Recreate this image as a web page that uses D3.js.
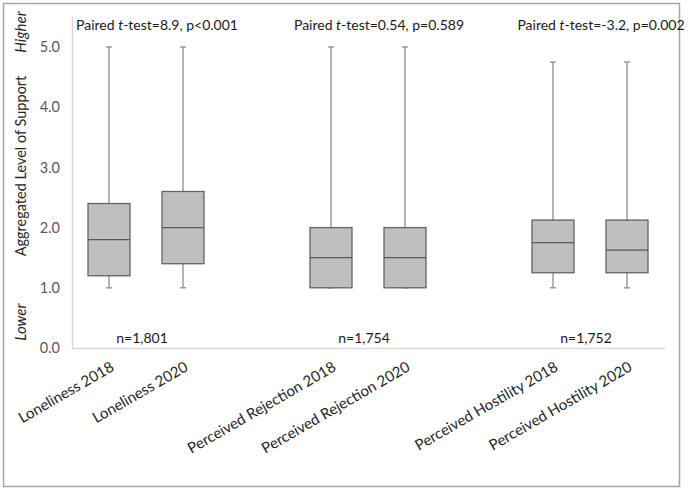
<!DOCTYPE html>
<html><head><meta charset="utf-8">
<script src="https://cdn.jsdelivr.net/npm/d3@7"></script>
<style>
body{margin:0;background:#fff;}
text{font-family:Lato,"Open Sans",sans-serif;}
</style></head>
<body><svg id="c" width="688" height="490"></svg>
<script>
// ---- data ----
const slots = ["Loneliness 2018","Loneliness 2020","gap1","Perceived Rejection 2018","Perceived Rejection 2020","gap2","Perceived Hostility 2018","Perceived Hostility 2020"];
const boxNames = ["Loneliness 2018","Loneliness 2020","Perceived Rejection 2018","Perceived Rejection 2020","Perceived Hostility 2018","Perceived Hostility 2020"];
const mins   = [1.0, 1.0, 1.0, 1.0, 1.0, 1.0];
const q1s    = [1.2, 1.4, 1.0, 1.0, 1.25, 1.25];
const medians= [1.8, 2.0, 1.5, 1.5, 1.75, 1.625];
const q3s    = [2.4, 2.6, 2.0, 2.0, 2.125, 2.125];
const maxs   = [5.0, 5.0, 5.0, 5.0, 4.75, 4.75];
const yTicks = [0,1,2,3,4,5];
const groupPairs = [["Loneliness 2018","Loneliness 2020"],["Perceived Rejection 2018","Perceived Rejection 2020"],["Perceived Hostility 2018","Perceived Hostility 2020"]];
const tStats = ["8.9","0.54","-3.2"];
const pStats = ["p<0.001","p=0.589","p=0.002"];
const nLabels = ["n=1,801","n=1,754","n=1,752"];

const svg = d3.select("#c");
// outer frame
svg.append("rect").attr("x",3.5).attr("y",3.5).attr("width",676).attr("height",483)
  .attr("fill","none").attr("stroke","#a6a6a6").attr("stroke-width",1.5);

const x = d3.scaleBand().domain(slots).range([72,664]);
const y = d3.scaleLinear().domain([0,5]).range([348,47]);

// axes lines
svg.append("line").attr("x1",72.5).attr("x2",72.5).attr("y1",17).attr("y2",y(0))
  .attr("stroke","#d9d9d9").attr("stroke-width",1.5);
svg.append("line").attr("x1",72).attr("x2",665).attr("y1",y(0)+0.5).attr("y2",y(0)+0.5)
  .attr("stroke","#d9d9d9").attr("stroke-width",1.5);

// y tick labels
const yAxis = d3.axisLeft(y).tickValues(yTicks).tickFormat(d3.format(".1f")).tickSize(0).tickPadding(12);
const ga = svg.append("g").attr("transform","translate(72,0)").call(yAxis);
ga.select(".domain").remove();
ga.selectAll("text").attr("font-size",14.5).attr("fill","#595959").attr("font-family","Lato,'Open Sans',sans-serif");

// y title
svg.append("text").attr("transform","translate(26,166) rotate(-90)").attr("text-anchor","middle")
  .attr("font-size",14.5).attr("fill","#262626").text("Aggregated Level of Support");
svg.append("text").attr("transform","translate(26,32) rotate(-90)").attr("text-anchor","middle")
  .attr("font-size",15).attr("font-style","italic").attr("fill","#262626").text("Higher");
svg.append("text").attr("transform","translate(26,322) rotate(-90)").attr("text-anchor","middle")
  .attr("font-size",15).attr("font-style","italic").attr("fill","#262626").text("Lower");

// boxes
const bw = 42;
const data = boxNames.map((n,i)=>({name:n,min:mins[i],q1:q1s[i],med:medians[i],q3:q3s[i],max:maxs[i]}));
const g = svg.append("g");
data.forEach(d=>{
  const cx = x(d.name)+x.bandwidth()/2;
  g.append("line").attr("x1",cx).attr("x2",cx).attr("y1",y(d.max)).attr("y2",y(d.q3))
    .attr("stroke","#8c8c8c").attr("stroke-width",1.3);
  g.append("line").attr("x1",cx).attr("x2",cx).attr("y1",y(d.q1)).attr("y2",y(d.min))
    .attr("stroke","#8c8c8c").attr("stroke-width",1.3);
  [d.max,d.min].forEach(v=>g.append("line").attr("x1",cx-3).attr("x2",cx+3).attr("y1",y(v)).attr("y2",y(v))
    .attr("stroke","#8c8c8c").attr("stroke-width",1.3));
  g.append("rect").attr("x",cx-bw/2).attr("y",y(d.q3)).attr("width",bw).attr("height",y(d.q1)-y(d.q3))
    .attr("fill","#bfbfbf").attr("stroke","#636363").attr("stroke-width",1.3);
  g.append("line").attr("x1",cx-bw/2).attr("x2",cx+bw/2).attr("y1",y(d.med)).attr("y2",y(d.med))
    .attr("stroke","#595959").attr("stroke-width",1.3);
});

// x labels
slots.forEach(s=>{
  if(s.startsWith("gap")) return;
  const cx = x(s)+x.bandwidth()/2;
  svg.append("text").attr("transform",`translate(${cx+6},${y(0)+22}) rotate(-30)`)
    .attr("text-anchor","end").attr("font-size",15).attr("fill","#262626").text(s);
});

// annotations
groupPairs.forEach((p,i)=>{
  const c = (x(p[0])+x(p[1])+x.bandwidth())/2;
  const t = svg.append("text").attr("x",c+11).attr("y",30).attr("text-anchor","middle")
    .attr("font-size",14).attr("fill","#1a1a1a");
  t.append("tspan").text("Paired ");
  t.append("tspan").attr("font-style","italic").text("t");
  t.append("tspan").text("-test="+tStats[i]+", "+pStats[i]);
  svg.append("text").attr("x",c-4).attr("y",343).attr("text-anchor","middle")
    .attr("font-size",14).attr("fill","#1a1a1a").text(nLabels[i]);
});
</script></body></html>
